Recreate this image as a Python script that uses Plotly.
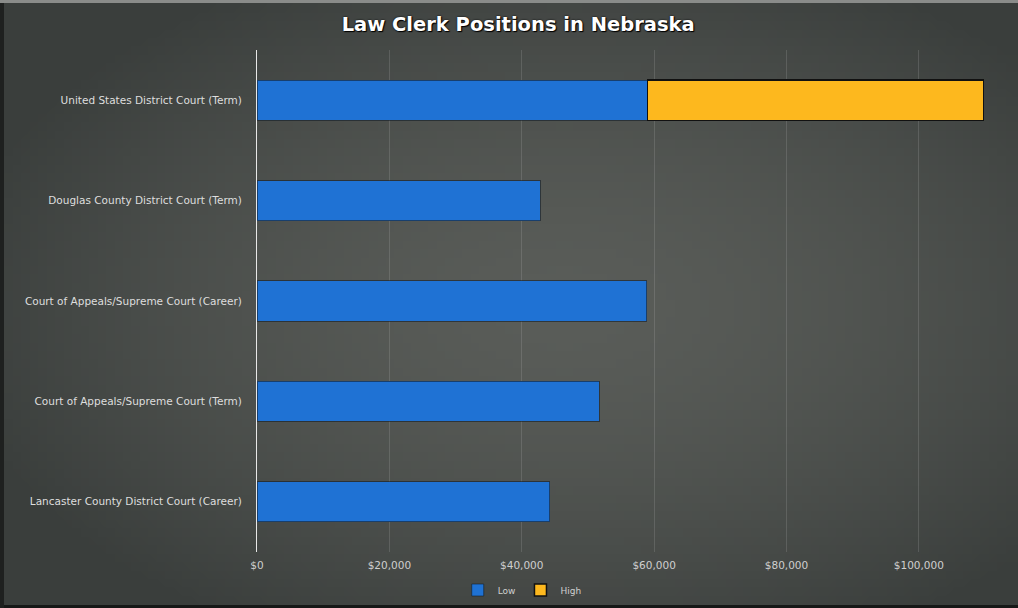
import base64, struct, zlib
import numpy as np
import plotly.graph_objects as go

categories = [
    "United States District Court (Term)",
    "Douglas County District Court (Term)",
    "Court of Appeals/Supreme Court (Career)",
    "Court of Appeals/Supreme Court (Term)",
    "Lancaster County District Court (Career)",
]
low = [59000, 42800, 58900, 51700, 44200]
high = [50800, None, None, None, None]
tick_vals = [0, 20000, 40000, 60000, 80000, 100000]
tick_text = ["$0", "$20,000", "$40,000", "$60,000", "$80,000", "$100,000"]


def png_data_uri(arr):
    h, w, _ = arr.shape
    raw = b"".join(b"\x00" + arr[r].tobytes() for r in range(h))

    def chunk(t, d):
        c = struct.pack(">I", len(d)) + t + d
        return c + struct.pack(">I", zlib.crc32(t + d) & 0xFFFFFFFF)

    png = b"\x89PNG\r\n\x1a\n" + chunk(b"IHDR", struct.pack(">IIBBBBB", w, h, 8, 2, 0, 0, 0))
    png += chunk(b"IDAT", zlib.compress(raw, 9)) + chunk(b"IEND", b"")
    return "data:image/png;base64," + base64.b64encode(png).decode()


# radial vignette background
W, H = 120, 72
yy, xx = np.mgrid[0:H, 0:W]
d = np.sqrt(((xx - W * 0.55) / (W * 0.62)) ** 2 + ((yy - H * 0.5) / (H * 0.62)) ** 2)
d = np.clip(d, 0, 1)
c0 = np.array([90, 93, 89])
c1 = np.array([58, 62, 60])
img = (c0[None, None, :] * (1 - d[..., None] ** 1.6) + c1[None, None, :] * d[..., None] ** 1.6)
img = img.clip(0, 255).astype(np.uint8)
bg = png_data_uri(img)

FIG_W, FIG_H = 1018, 608
ML, MR, MT, MB = 257, 31, 50, 56
PW, PH = FIG_W - ML - MR, FIG_H - MT - MB

fig = go.Figure()
fig.add_trace(go.Bar(
    y=categories, x=low, name="Low", orientation="h",
    marker=dict(color="#1f72d4", line=dict(color="rgba(20,30,40,0.6)", width=1)),
))
fig.add_trace(go.Bar(
    y=categories, x=high, name="High", orientation="h",
    marker=dict(color="#fdb81e", line=dict(color="#111111", width=1.5)),
))

fig.update_layout(
    width=FIG_W, height=FIG_H,
    barmode="stack", bargap=0.6,
    paper_bgcolor="#3c403e", plot_bgcolor="rgba(0,0,0,0)",
    margin=dict(l=ML, r=MR, t=MT, b=MB, autoexpand=False),
    title=dict(text="<b>Law Clerk Positions in Nebraska</b>", x=0.509, xanchor="center",
               xref="container", yref="container",
               y=1 - 24 / FIG_H, yanchor="middle",
               font=dict(family="DejaVu Sans", size=19.5, color="#ffffff",
                         shadow="0 0 2px #000, 1px 1px 1px #000")),
    font=dict(family="DejaVu Sans", color="#d9d9d9", size=9),
    showlegend=True,
    legend=dict(orientation="h", x=0.513, xanchor="center", xref="container",
                yref="container", y=1 - 590 / FIG_H, yanchor="middle",
                font=dict(size=9, color="#d0d0d0"), itemwidth=30, traceorder="normal",
                bgcolor="rgba(0,0,0,0)"),
    images=[dict(source=bg, xref="paper", yref="paper", x=-ML / PW, y=1 + MT / PH,
                 sizex=FIG_W / PW, sizey=FIG_H / PH, xanchor="left", yanchor="top",
                 sizing="stretch", layer="below")],
    shapes=[
        dict(type="rect", xref="paper", yref="paper", x0=-ML / PW, x1=(FIG_W - ML) / PW,
             y0=-MB / PH, y1=-(MB - 3) / PH, fillcolor="#161817", line_width=0, layer="below"),
        dict(type="rect", xref="paper", yref="paper", x0=-ML / PW, x1=-(ML - 4) / PW,
             y0=-MB / PH, y1=1 + MT / PH, fillcolor="#1e201f", line_width=0, layer="below"),
        dict(type="rect", xref="paper", yref="paper", x0=-ML / PW, x1=(FIG_W - ML) / PW,
             y0=1 + (MT - 3) / PH, y1=1 + MT / PH, fillcolor="#8a8c8a", line_width=0, layer="below"),
    ],
)
fig.update_xaxes(range=[0, 110300], tickvals=tick_vals, ticktext=tick_text,
                 showgrid=True, gridcolor="rgba(200,200,200,0.18)", gridwidth=1,
                 zeroline=False, showline=False, ticks="", ticklabelstandoff=5,
                 tickfont=dict(size=10.5, color="#cfcfcf"))
fig.update_yaxes(autorange="reversed", showline=True, linecolor="#e8e8e8", linewidth=1,
                 ticks="", showgrid=False, ticklabelstandoff=12,
                 tickfont=dict(size=10.5, color="#dedede"))

fig.write_html("out.html")
